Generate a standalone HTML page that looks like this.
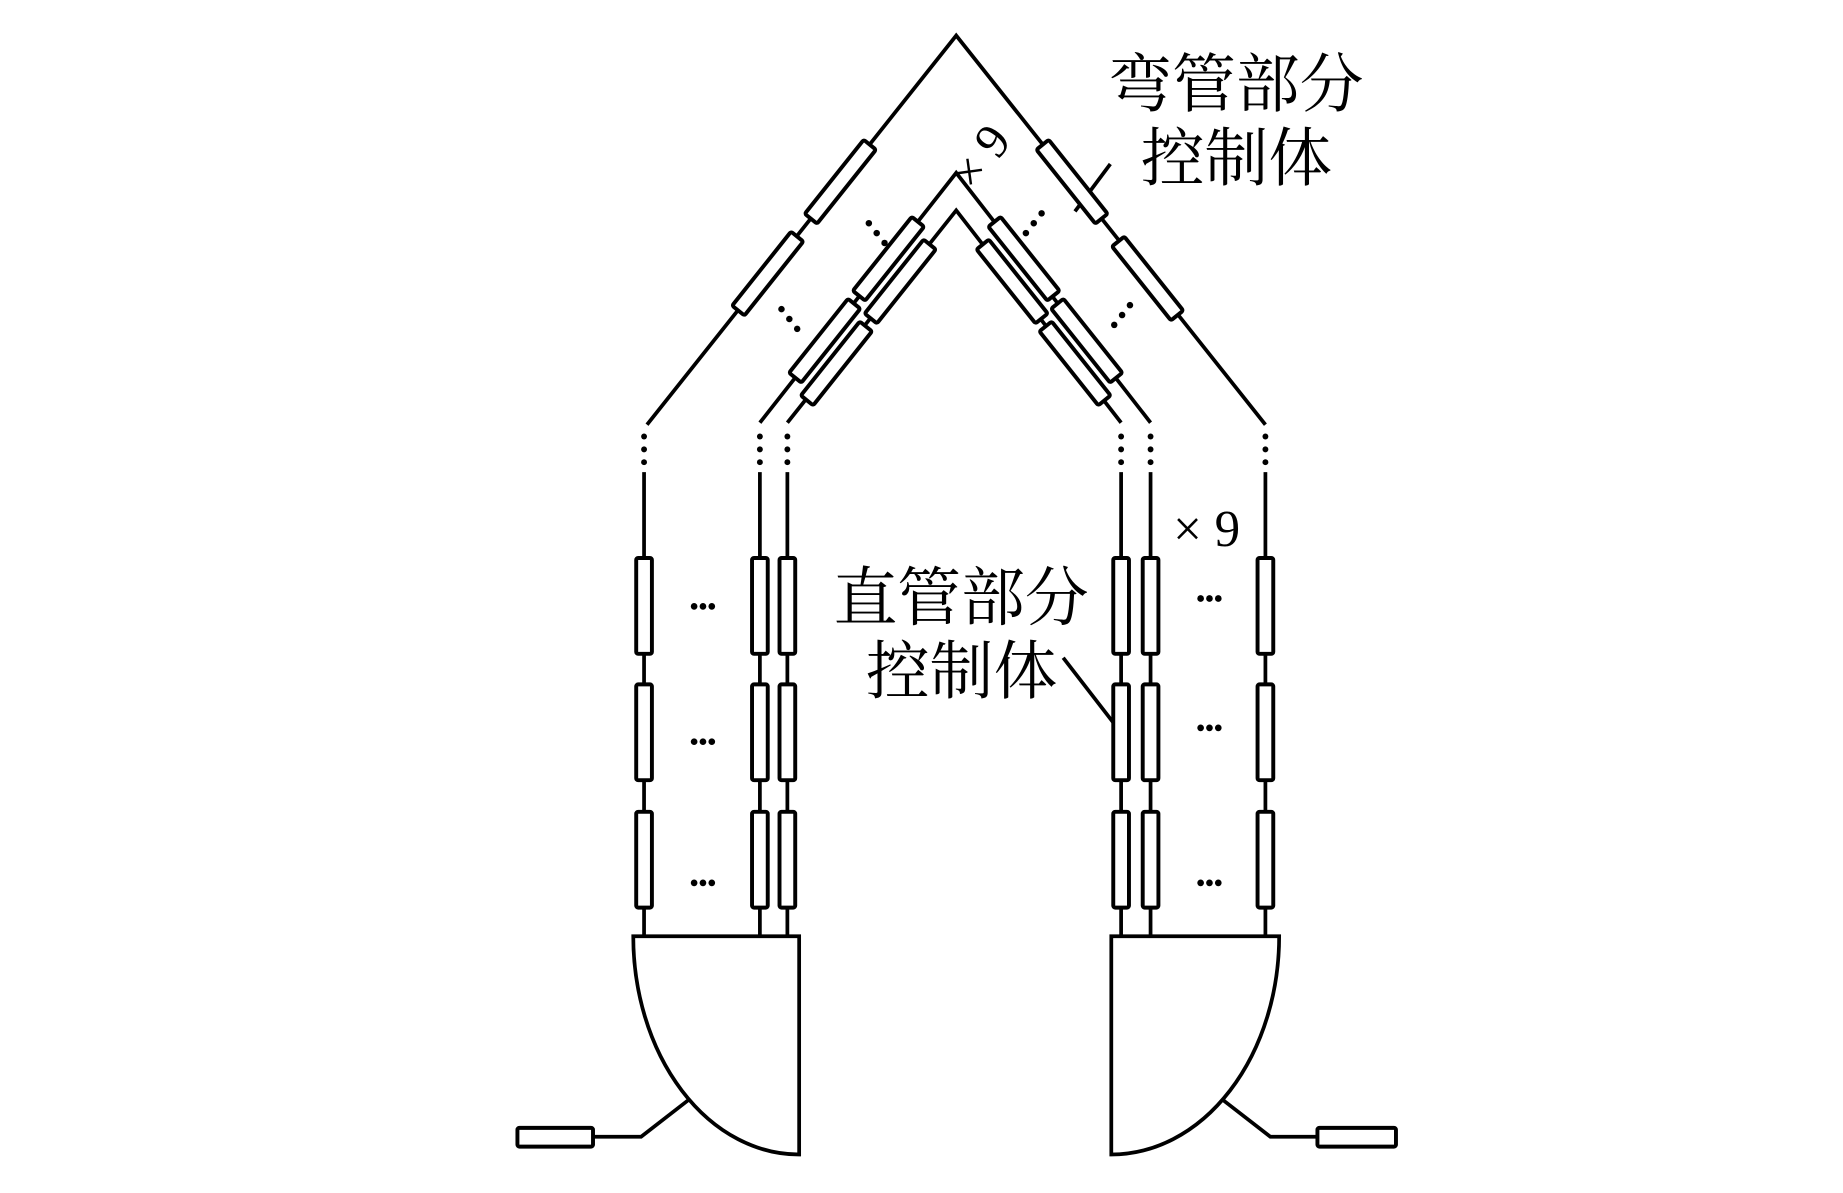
<!DOCTYPE html>
<html><head><meta charset="utf-8"><style>html,body{margin:0;padding:0;background:#fff}svg{display:block}</style></head>
<body>
<svg width="1843" height="1193" viewBox="0 0 1843 1193" xmlns="http://www.w3.org/2000/svg">
<defs>
<g id="vr"><rect x="-8" y="0" width="16" height="97" rx="2" fill="#fff" stroke="#000" stroke-width="4"/></g>
<g id="dr"><rect x="-8" y="-48" width="16" height="96" rx="2" fill="#fff" stroke="#000" stroke-width="4"/></g>
</defs>
<g transform="matrix(0.9816,0,0,0.9876,7,0)">
<g stroke="#000" stroke-width="3.8" fill="none">
<polyline points="652,430 967,36 1282,430"/>
<polyline points="767,428 967,175 1165,428"/>
<polyline points="795,428 967,213 1135,428"/>
<line x1="649" y1="478" x2="649" y2="948"/>
<line x1="767" y1="478" x2="767" y2="948"/>
<line x1="795" y1="478" x2="795" y2="948"/>
<line x1="1135" y1="478" x2="1135" y2="948"/>
<line x1="1165" y1="478" x2="1165" y2="948"/>
<line x1="1282" y1="478" x2="1282" y2="948"/>
<path d="M807,948 L638,948 A169,221 0 0 0 807,1169 Z" fill="#fff"/>
<path d="M1125,948 L1296,948 A171,221 0 0 1 1125,1169 Z" fill="#fff"/>
<polyline points="694,1114 646,1151 597,1151"/>
<polyline points="1239,1114 1287,1151 1335,1151"/>
<line x1="1088" y1="214" x2="1124" y2="166"/>
<line x1="1076" y1="666" x2="1139" y2="747"/>
</g>
<rect x="520" y="1142" width="77" height="19" rx="2" fill="#fff" stroke="#000" stroke-width="4"/>
<rect x="1335" y="1142" width="80" height="19" rx="2" fill="#fff" stroke="#000" stroke-width="4"/>
<g>
<use href="#vr" x="649" y="565"/><use href="#vr" x="649" y="693"/><use href="#vr" x="649" y="822"/>
<use href="#vr" x="767" y="565"/><use href="#vr" x="767" y="693"/><use href="#vr" x="767" y="822"/>
<use href="#vr" x="795" y="565"/><use href="#vr" x="795" y="693"/><use href="#vr" x="795" y="822"/>
<use href="#vr" x="1135" y="565"/><use href="#vr" x="1135" y="693"/><use href="#vr" x="1135" y="822"/>
<use href="#vr" x="1165" y="565"/><use href="#vr" x="1165" y="693"/><use href="#vr" x="1165" y="822"/>
<use href="#vr" x="1282" y="565"/><use href="#vr" x="1282" y="693"/><use href="#vr" x="1282" y="822"/>
</g>
<g>
<use href="#dr" transform="translate(849,184) rotate(38.7)"/>
<use href="#dr" transform="translate(775,277) rotate(38.7)"/>
<use href="#dr" transform="translate(1085,184) rotate(-38.7)"/>
<use href="#dr" transform="translate(1162,282) rotate(-38.7)"/>
<use href="#dr" transform="translate(898,262) rotate(38.7)"/>
<use href="#dr" transform="translate(833,345) rotate(38.7)"/>
<use href="#dr" transform="translate(910,285) rotate(38.7)"/>
<use href="#dr" transform="translate(845,368) rotate(38.7)"/>
<use href="#dr" transform="translate(1036,262) rotate(-38.7)"/>
<use href="#dr" transform="translate(1100,345) rotate(-38.7)"/>
<use href="#dr" transform="translate(1024,285) rotate(-38.7)"/>
<use href="#dr" transform="translate(1088,368) rotate(-38.7)"/>
</g>
<g fill="#000">
<g id="vd"><circle cx="649" cy="442" r="3"/><circle cx="649" cy="455" r="3"/><circle cx="649" cy="468" r="3"/></g>
<use href="#vd" x="118"/><use href="#vd" x="146"/><use href="#vd" x="486"/><use href="#vd" x="516"/><use href="#vd" x="633"/>
<circle cx="878" cy="226" r="3.3"/><circle cx="886" cy="236" r="3.3"/><circle cx="894" cy="246" r="3.3"/>
<circle cx="789" cy="313" r="3.3"/><circle cx="797" cy="323" r="3.3"/><circle cx="805" cy="333" r="3.3"/>
<circle cx="1054" cy="216" r="3.3"/><circle cx="1046" cy="226" r="3.3"/><circle cx="1038" cy="236" r="3.3"/>
<circle cx="1144" cy="309" r="3.3"/><circle cx="1136" cy="319" r="3.3"/><circle cx="1128" cy="329" r="3.3"/>
<g id="el"><circle cx="700" cy="614" r="3.4"/><circle cx="709" cy="614" r="3.4"/><circle cx="718" cy="614" r="3.4"/></g>
<use href="#el" y="137"/><use href="#el" y="280"/>
<use href="#el" x="516" y="-8"/><use href="#el" x="516" y="123"/><use href="#el" x="516" y="280"/>
</g>
<g font-family="'Liberation Serif','Noto Serif CJK SC','Noto Sans CJK SC',serif" fill="#000">
<text x="1122" y="108" font-size="65">弯管部分</text>
<text x="1155" y="183" font-size="65">控制体</text>
<text x="842" y="628" font-size="65">直管部分</text>
<text x="875" y="702" font-size="65">控制体</text>
<text x="1188" y="553" font-size="52">× 9</text>
<text transform="translate(985,195) rotate(-53)" font-size="50">× 9</text>
</g>
</g>
</svg>
</body></html>
